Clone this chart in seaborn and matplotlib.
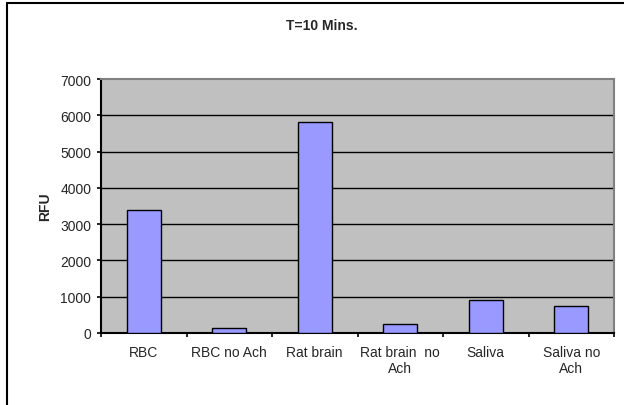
import matplotlib
matplotlib.use("Agg")
import matplotlib.pyplot as plt
import seaborn as sns
import pandas as pd
from matplotlib.lines import Line2D

categories = ["RBC", "RBC no Ach", "Rat brain", "Rat brain  no\nAch", "Saliva", "Saliva no\nAch"]
values = [3400, 150, 5820, 250, 920, 750]
yticks = [0, 1000, 2000, 3000, 4000, 5000, 6000, 7000]

sns.set_theme(style="white")
plt.rcParams['font.family'] = ['Liberation Sans', 'DejaVu Sans']

W, H = 624, 406
fig = plt.figure(figsize=(W / 100, H / 100), dpi=100)
left, right, top, bottom = 101, 614, 80, 334
ax = fig.add_axes([left / W, 1 - bottom / H, (right - left) / W, (bottom - top) / H])

df = pd.DataFrame({"cat": categories, "val": values})
sns.barplot(data=df, x="cat", y="val", ax=ax, color="#9999FF", width=0.4,
            edgecolor="black", linewidth=1.0, saturation=1, zorder=3)

ax.set_facecolor("#C0C0C0")
ax.set_ylim(0, 7000)
ax.set_xlim(-0.5, len(categories) - 0.5)
ax.set_yticks(yticks)
ax.set_yticklabels([str(t) for t in yticks], fontsize=10)
for t in yticks[1:-1]:
    ax.axhline(t, color="black", lw=1.0, zorder=1)

ax.set_xticks([i - 0.5 for i in range(len(categories) + 1)])
ax.set_xticklabels([])
ax.tick_params(axis="x", which="major", direction="out", length=3, width=1.2, color="black", bottom=True)
ax.set_xticks(range(len(categories)), minor=True)
ax.set_xticklabels(categories, minor=True, fontsize=10, linespacing=1.1)
ax.tick_params(axis="x", which="minor", length=0, pad=9)
ax.tick_params(axis="y", direction="out", length=3, width=1.2, color="black", left=True, pad=4)

for s in ["left", "bottom"]:
    ax.spines[s].set_color("black")
    ax.spines[s].set_linewidth(1.5)
for s in ["top", "right"]:
    ax.spines[s].set_color("#808080")
    ax.spines[s].set_linewidth(1.5)

ax.set_xlabel("")
ax.set_ylabel("RFU", fontsize=10, fontweight="bold", labelpad=6)

fig.text(322 / W, 1 - 26 / H, "T=10 Mins.", ha="center", va="center", fontsize=10, fontweight="bold")

# outer chart border (left and top edges visible)
fig.add_artist(Line2D([7 / W, 7 / W], [0, 1 - 4 / H], color="black", lw=1.5, transform=fig.transFigure))
fig.add_artist(Line2D([7 / W, 1], [1 - 4 / H, 1 - 4 / H], color="black", lw=1.5, transform=fig.transFigure))

fig.savefig("out.png", dpi=100)
